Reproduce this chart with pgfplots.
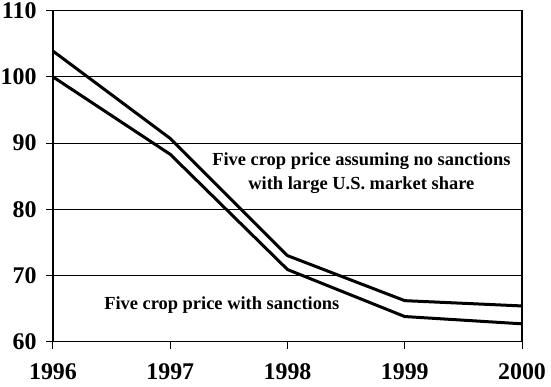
\documentclass[border=0pt]{standalone}
\usepackage{fontspec}
\setmainfont{Liberation Serif}
\usepackage{pgfplots}
\pgfplotsset{compat=1.18}
\begin{document}
\begin{tikzpicture}
\begin{axis}[
  name=ax,
  scale only axis,
  width=469bp, height=331bp,
  xmin=1996, xmax=2000, ymin=60, ymax=110,
  xtick={1996,1997,1998,1999,2000},
  ytick={60,70,80,90,100,110},
  xticklabel style={/pgf/number format/1000 sep={}},
  /pgf/number format/assume math mode=true,
  ticklabel style={font=\fontsize{24}{26}\selectfont\bfseries},
  xtick pos=bottom, ytick pos=left,
  tick align=outside,
  major tick length=7bp,
  tick style={black, line width=1bp},
  axis line style={line width=1.2bp},
  ymajorgrids,
  grid style={black, line width=0.9bp},
  xticklabel style={yshift=-11bp},
  yticklabel style={xshift=-6bp},
  clip=false,
]
\addplot[black, line width=3bp, line join=round] coordinates {
  (1996,103.9) (1997,90.7) (1998,73.0) (1999,66.2) (2000,65.4)};
\addplot[black, line width=3bp, line join=round] coordinates {
  (1996,100.0) (1997,88.3) (1998,70.9) (1999,63.8) (2000,62.7)};
\node[align=center, font=\fontsize{18.5}{24}\selectfont\bfseries] at (axis cs:1998.63,85.4)
  {Five crop price assuming no sanctions\\with large U.S. market share};
\node[font=\fontsize{18.5}{24}\selectfont\bfseries] at (axis cs:1997.44,65.5)
  {Five crop price with sanctions};
\end{axis}
\pgfresetboundingbox
\path ([shift={(-53bp,-45bp)}]ax.south west) rectangle ([shift={(29bp,10.7bp)}]ax.north east);
\end{tikzpicture}
\end{document}
